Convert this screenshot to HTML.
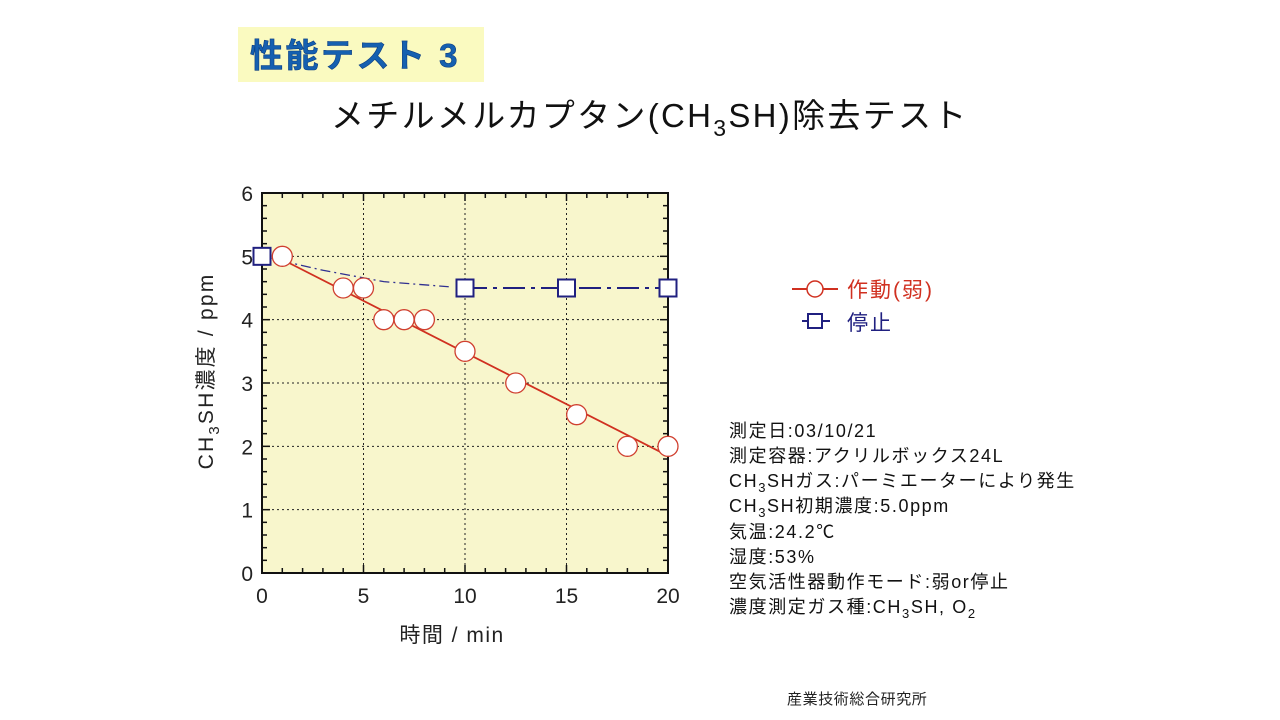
<!DOCTYPE html>
<html><head><meta charset="utf-8">
<style>
body{margin:0;width:1280px;height:720px;background:#fff;overflow:hidden;font-family:"Liberation Sans","Noto Sans CJK JP",sans-serif;}
svg{position:absolute;left:0;top:0}
</style></head>
<body>
<svg id="chart" width="1280" height="720" font-family="Liberation Sans, Noto Sans CJK JP, sans-serif">
<rect x="238" y="27" width="246" height="55" fill="#fafac0"/>
<text x="250" y="67" font-size="33" font-weight="bold" letter-spacing="2.5" fill="#1560b0" stroke="#0a3c80" stroke-width="0.6">性能テスト 3</text>
<text x="331" y="127" font-size="33" letter-spacing="2.3" fill="#111">メチルメルカプタン(CH<tspan font-size="23" dy="9">3</tspan><tspan dy="-9">SH)除去テスト</tspan></text>
<g id="plot"></g>
<text transform="translate(213,371) rotate(-90)" text-anchor="middle" font-size="21" letter-spacing="2.2" fill="#222">CH<tspan font-size="15" dy="6">3</tspan><tspan dy="-6">SH濃度 / ppm</tspan></text>
<text x="452" y="642" text-anchor="middle" font-size="21" letter-spacing="1.5" fill="#222">時間 / min</text>
<g>
<line x1="792" y1="289" x2="838" y2="289" stroke="#d03020" stroke-width="2"/>
<circle cx="815" cy="289" r="8" fill="#fff" stroke="#d03020" stroke-width="1.5"/>
<text x="847" y="297" font-size="21" letter-spacing="2" fill="#d03020">作動(弱)</text>
</g>
<g>
<line x1="802" y1="321" x2="830" y2="321" stroke="#202080" stroke-width="2"/>
<rect x="808" y="314" width="14" height="14" fill="#fff" stroke="#202080" stroke-width="2"/>
<text x="847" y="330" font-size="21" letter-spacing="2" fill="#202080">停止</text>
</g>
<g font-size="18" letter-spacing="1.6" fill="#111">
<text x="729" y="437">測定日:03/10/21</text>
<text x="729" y="462">測定容器:アクリルボックス24L</text>
<text x="729" y="487">CH<tspan font-size="13" dy="5">3</tspan><tspan dy="-5">SHガス:パーミエーターにより発生</tspan></text>
<text x="729" y="512">CH<tspan font-size="13" dy="5">3</tspan><tspan dy="-5">SH初期濃度:5.0ppm</tspan></text>
<text x="729" y="538">気温:24.2℃</text>
<text x="729" y="563">湿度:53%</text>
<text x="729" y="588">空気活性器動作モード:弱or停止</text>
<text x="729" y="613">濃度測定ガス種:CH<tspan font-size="13" dy="5">3</tspan><tspan dy="-5">SH, O</tspan><tspan font-size="13" dy="5">2</tspan></text>
</g>
<text x="787" y="704" font-size="15" letter-spacing="0.6" fill="#222">産業技術総合研究所</text>
</svg>
<script>
const xTicks=[0,5,10,15,20];
const yTicks=[0,1,2,3,4,5,6];
const activeX=[1,4,5,6,7,8,10,12.5,15.5,18,20];
const activeY=[5,4.5,4.5,4,4,4,3.5,3,2.5,2,2];
const fitX=[1,20];
const fitY=[4.95,1.85];
const stopX=[0,10,15,20];
const stopY=[5,4.5,4.5,4.5];
const stopCurveX=[0,3,6,9.2];
const stopCurveY=[5,4.78,4.6,4.52];

const X0=262,X1=668,Y0=573,Y1=193;
const sx=v=>X0+(X1-X0)*v/20;
const sy=v=>Y0-(Y0-Y1)*v/6;
const NS="http://www.w3.org/2000/svg";
const g=document.getElementById('plot');
function mk(t,a,p){const e=document.createElementNS(NS,t);for(const k in a)e.setAttribute(k,a[k]);(p||g).appendChild(e);return e;}

const bg=mk('rect',{x:X0,y:Y1,width:X1-X0,height:Y0-Y1,fill:'#f8f6cc'});


xTicks.slice(1,-1).forEach(v=>{const l=mk('line',{x1:sx(v),x2:sx(v),y1:Y1,y2:Y0,stroke:'#222','stroke-width':1,'stroke-dasharray':'2,3'});

});
yTicks.slice(1,-1).forEach(v=>{const l=mk('line',{x1:X0,x2:X1,y1:sy(v),y2:sy(v),stroke:'#222','stroke-width':1,'stroke-dasharray':'2,3'});

});
for(let i=0;i<=20;i++){const L=(i%5==0)?8:5;
mk('line',{x1:sx(i),x2:sx(i),y1:Y0,y2:Y0-L,stroke:'#111','stroke-width':1.5});
mk('line',{x1:sx(i),x2:sx(i),y1:Y1,y2:Y1+L,stroke:'#111','stroke-width':1.5});}
for(let i=0;i<=30;i++){const v=i*0.2,L=(i%5==0)?8:5;
mk('line',{x1:X0,x2:X0+L,y1:sy(v),y2:sy(v),stroke:'#111','stroke-width':1.5});
mk('line',{x1:X1,x2:X1-L,y1:sy(v),y2:sy(v),stroke:'#111','stroke-width':1.5});}
const fr=mk('rect',{x:X0,y:Y1,width:X1-X0,height:Y0-Y1,fill:'none',stroke:'#111','stroke-width':2});


xTicks.forEach(v=>{const t=mk('text',{x:sx(v),y:Y0+30,'text-anchor':'middle','font-size':21,fill:'#222'});t.textContent=v;

});
yTicks.forEach(v=>{const t=mk('text',{x:X0-9,y:sy(v)+8,'text-anchor':'end','font-size':21,fill:'#222'});t.textContent=v;

});
const cp=mk('polyline',{points:stopCurveX.map((x,i)=>sx(x)+','+sy(stopCurveY[i])).join(' '),fill:'none',stroke:'#303090','stroke-width':1.3,'stroke-dasharray':'10,4,2,4'});


const sl=mk('polyline',{points:stopX.slice(1).map((x,i)=>sx(x)+','+sy(stopY[i+1])).join(' '),fill:'none',stroke:'#202080','stroke-width':2,'stroke-dasharray':'22,6,4,6'});


const fl=mk('line',{x1:sx(fitX[0]),y1:sy(fitY[0]),x2:sx(fitX[1]),y2:sy(fitY[1]),stroke:'#d03020','stroke-width':1.8});


activeX.forEach((x,i)=>{const c=mk('circle',{cx:sx(x),cy:sy(activeY[i]),r:10,fill:'#fff',stroke:'#d04030','stroke-width':1.3});

});
stopX.forEach((x,i)=>{const r=mk('rect',{x:sx(x)-8.5,y:sy(stopY[i])-8.5,width:17,height:17,fill:'#fff',stroke:'#202080','stroke-width':2});

});
</script>
</body></html>
